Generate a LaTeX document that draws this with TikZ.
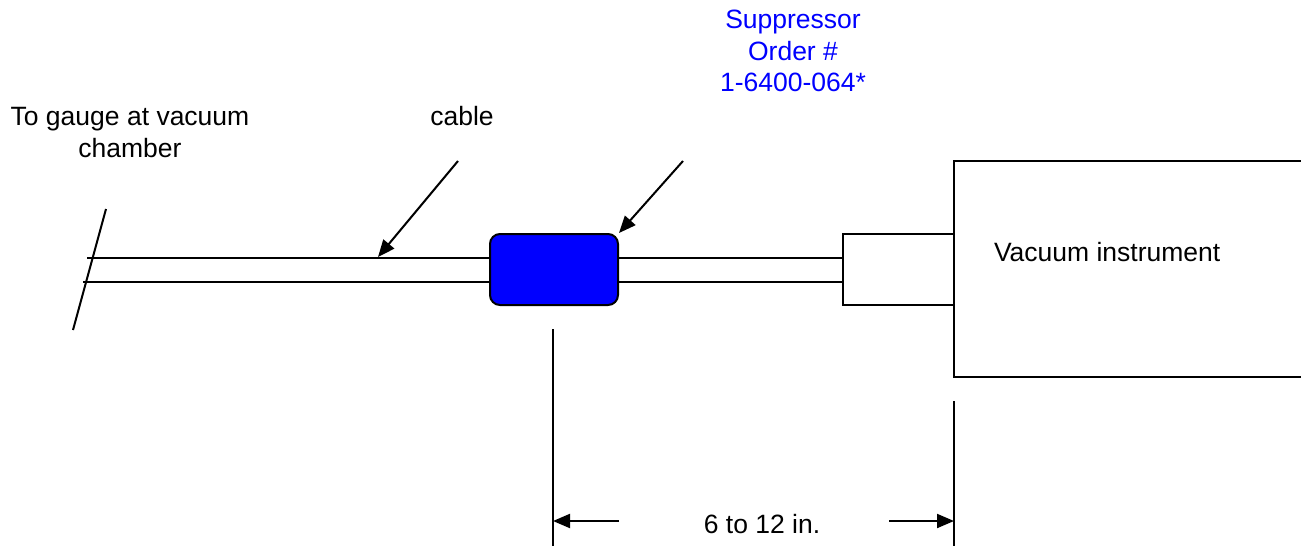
\documentclass[tikz,border=0pt]{standalone}
\usepackage{fontspec}
\setmainfont{Liberation Sans}
\usetikzlibrary{arrows.meta}
\definecolor{supblue}{RGB}{0,0,255}
\begin{document}
\begin{tikzpicture}[x=1pt,y=-1pt,line width=2pt,
  lbl/.style={font=\fontsize{26.5}{30.5}\selectfont,inner sep=0pt,anchor=base},
  bluelbl/.style={lbl,text=supblue},
  ptr/.style={-{Triangle[length=17pt,width=14pt]}},
  supbox/.style={draw,fill=supblue,rounded corners=10pt,minimum width=128pt,minimum height=71pt,inner sep=0pt},
  connbox/.style={draw,minimum width=111pt,minimum height=71pt,inner sep=0pt}]
\useasboundingbox (0,0) rectangle (1301,546);
% texts
\node[lbl] (g1) at (130,125) {To gauge at vacuum};
\node[lbl] (g2) at (130,157) {chamber};
\node[lbl] (cab) at (462,125) {cable};
\node[bluelbl] (s1) at (793,28) {Suppressor};
\node[bluelbl] (s2) at (793,60) {Order \#};
\node[bluelbl] (s3) at (793,91) {1-6400-064*};
% components
\node[supbox] (sup) at (554,269.5) {};
\node[connbox] (conn) at (898,269.5) {};
\coordinate (it1) at (1310,161);
\coordinate (it2) at (954,161);
\coordinate (it3) at (954,377);
\coordinate (it4) at (1310,377);
\draw (it1) -- (it2) -- (it3) -- (it4);
\node[lbl,anchor=base west] (vi) at (993,261) {Vacuum instrument};
% cable
\coordinate (cu) at (87,258);
\coordinate (cl) at (83,282);
\draw (cu) -- (cu -| sup.west);
\draw (cl) -- (cl -| sup.west);
\draw (sup.east |- cu) -- (conn.west |- cu);
\draw (sup.east |- cl) -- (conn.west |- cl);
% break slash
\coordinate (sl1) at (106,209);
\coordinate (sl2) at (73,330);
\draw (sl1) -- (sl2);
% pointers
\coordinate (pa) at (458,161);
\coordinate (pat) at (378,257);
\draw[ptr] (pa) -- (pat);
\coordinate (pb) at (683,161);
\draw[ptr] (pb) -- (sup.north east);
% dimension
\coordinate (d1t) at (553,329);
\coordinate (d1b) at (553,548);
\coordinate (d2t) at (954,401);
\coordinate (d2b) at (954,548);
\draw (d1t) -- (d1b);
\draw (d2t) -- (d2b);
\coordinate (al) at (619,521);
\coordinate (ar) at (889,521);
\draw[ptr] (al) -- (al -| d1t);
\draw[ptr] (ar) -- (ar -| d2t);
\node[lbl] (dim) at (762,533) {6 to 12 in.};
\end{tikzpicture}
\end{document}
